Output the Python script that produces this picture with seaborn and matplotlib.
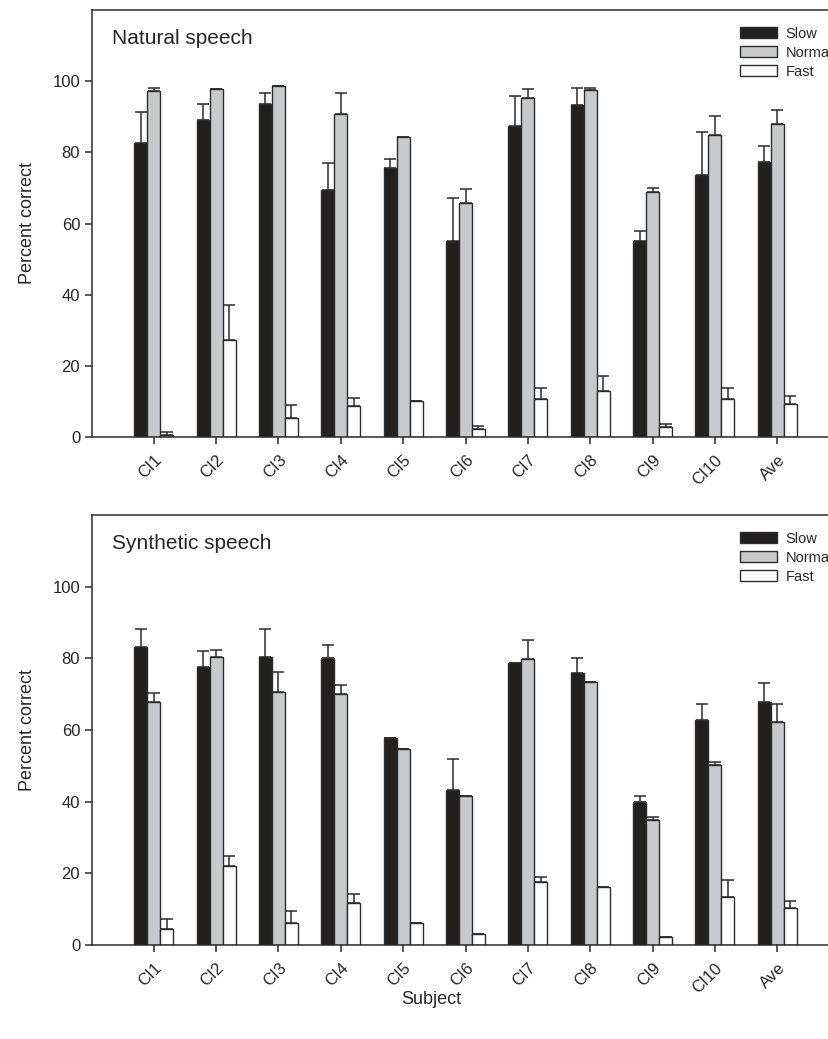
import numpy as np
import pandas as pd
import seaborn as sns
import matplotlib.pyplot as plt
from matplotlib.patches import Patch

subjects = ['CI1', 'CI2', 'CI3', 'CI4', 'CI5', 'CI6', 'CI7', 'CI8', 'CI9', 'CI10', 'Ave']
rates = ['Slow', 'Normal', 'Fast']

# Natural speech: means and upper error-bar ends
nat_slow = [82.7, 89.1, 93.6, 69.4, 75.5, 55.1, 87.4, 93.3, 55.2, 73.5, 77.4]
nat_slow_top = [91.4, 93.5, 96.8, 77.0, 78.2, 67.3, 95.8, 98.2, 57.9, 85.6, 81.8]
nat_normal = [97.3, 97.8, 98.7, 90.7, 84.2, 65.9, 95.2, 97.4, 68.8, 84.8, 88.1]
nat_normal_top = [98.2, 97.9, 98.7, 96.6, 84.3, 69.6, 97.8, 98.2, 70.0, 90.3, 91.9]
nat_fast = [0.6, 27.3, 5.3, 8.8, 10.0, 2.2, 10.7, 12.8, 2.9, 10.7, 9.3]
nat_fast_top = [1.3, 37.1, 9.1, 10.9, 10.0, 3.0, 13.8, 17.2, 3.7, 13.8, 11.6]

# Synthetic speech
syn_slow = [83.2, 77.7, 80.5, 80.2, 57.7, 43.2, 78.6, 76.0, 39.8, 62.8, 67.9]
syn_slow_top = [88.2, 82.0, 88.3, 83.8, 57.7, 51.8, 78.6, 80.1, 41.5, 67.3, 73.0]
syn_normal = [67.9, 80.4, 70.5, 70.0, 54.7, 41.5, 79.9, 73.5, 34.9, 50.3, 62.3]
syn_normal_top = [70.3, 82.4, 76.1, 72.6, 54.7, 41.5, 85.1, 73.5, 35.6, 51.2, 67.2]
syn_fast = [4.6, 22.0, 6.1, 11.7, 6.1, 3.2, 17.7, 16.3, 2.3, 13.4, 10.3]
syn_fast_top = [7.3, 24.9, 9.5, 14.3, 6.1, 3.2, 19.0, 16.3, 2.3, 18.1, 12.4]

colors = ['#231f20', '#c8c9cb', '#ffffff']
edge = '#2b2b2b'

sns.set_style("ticks")
plt.rcParams['font.family'] = ['Liberation Sans', 'DejaVu Sans']


def make_df(slow, normal, fast):
    df = pd.DataFrame({'Subject': subjects, 'Slow': slow, 'Normal': normal, 'Fast': fast})
    return df.melt(id_vars='Subject', var_name='Rate', value_name='Percent')


def draw_panel(ax, df, tops, title):
    sns.barplot(data=df, x='Subject', y='Percent', hue='Rate', order=subjects,
                hue_order=rates, palette=colors, width=0.625, gap=0,
                edgecolor=edge, linewidth=1.0, legend=False, ax=ax, errorbar=None)
    # upward-only error bars
    for cont, top in zip(ax.containers, tops):
        xs = [b.get_x() + b.get_width() / 2 for b in cont]
        hs = [b.get_height() for b in cont]
        up = np.array(top) - np.array(hs)
        ax.errorbar(xs, hs, yerr=[np.zeros(len(hs)), up], fmt='none',
                    ecolor=edge, elinewidth=1.1, capsize=4.6, capthick=1.1, zorder=3)
    ax.set_ylim(0, 120)
    ax.set_xlim(-0.99, 10.99)
    ax.set_yticks([0, 20, 40, 60, 80, 100])
    ax.set_xticks(range(len(subjects)))
    ax.set_xticklabels(subjects, rotation=45, ha='right', rotation_mode='anchor')
    ax.tick_params(axis='both', labelsize=12, length=5, width=1.1, color=edge, direction='out')
    ax.tick_params(axis='x', pad=6)
    ax.set_xlabel('')
    ax.set_ylabel('Percent correct', fontsize=13, labelpad=12)
    for s in ax.spines.values():
        s.set_visible(True)
        s.set_linewidth(1.1)
        s.set_color(edge)
    ax.text(0.027, 0.955, title, transform=ax.transAxes, fontsize=15, va='top', ha='left')
    handles = [Patch(facecolor=c, edgecolor=edge, linewidth=1.0, label=r) for c, r in zip(colors, rates)]
    ax.legend(handles=handles, loc='upper left', bbox_to_anchor=(0.86, 0.975), frameon=False,
              fontsize=10.5, handlelength=2.5, handleheight=0.8, labelspacing=0.35,
              handletextpad=0.6, borderaxespad=0)


fig = plt.figure(figsize=(8.29, 10.39), dpi=100)
W, H = 829, 1039
ax1 = fig.add_axes([92 / W, 1 - 437 / H, 747 / W, 427 / H])
ax2 = fig.add_axes([92 / W, 1 - 945 / H, 747 / W, 430 / H])

draw_panel(ax1, make_df(nat_slow, nat_normal, nat_fast),
           [nat_slow_top, nat_normal_top, nat_fast_top], 'Natural speech')
draw_panel(ax2, make_df(syn_slow, syn_normal, syn_fast),
           [syn_slow_top, syn_normal_top, syn_fast_top], 'Synthetic speech')

fig.text(431 / W, 1 - 1000 / H, 'Subject', fontsize=13, ha='center', va='center')

fig.savefig('out.png', dpi=100)
